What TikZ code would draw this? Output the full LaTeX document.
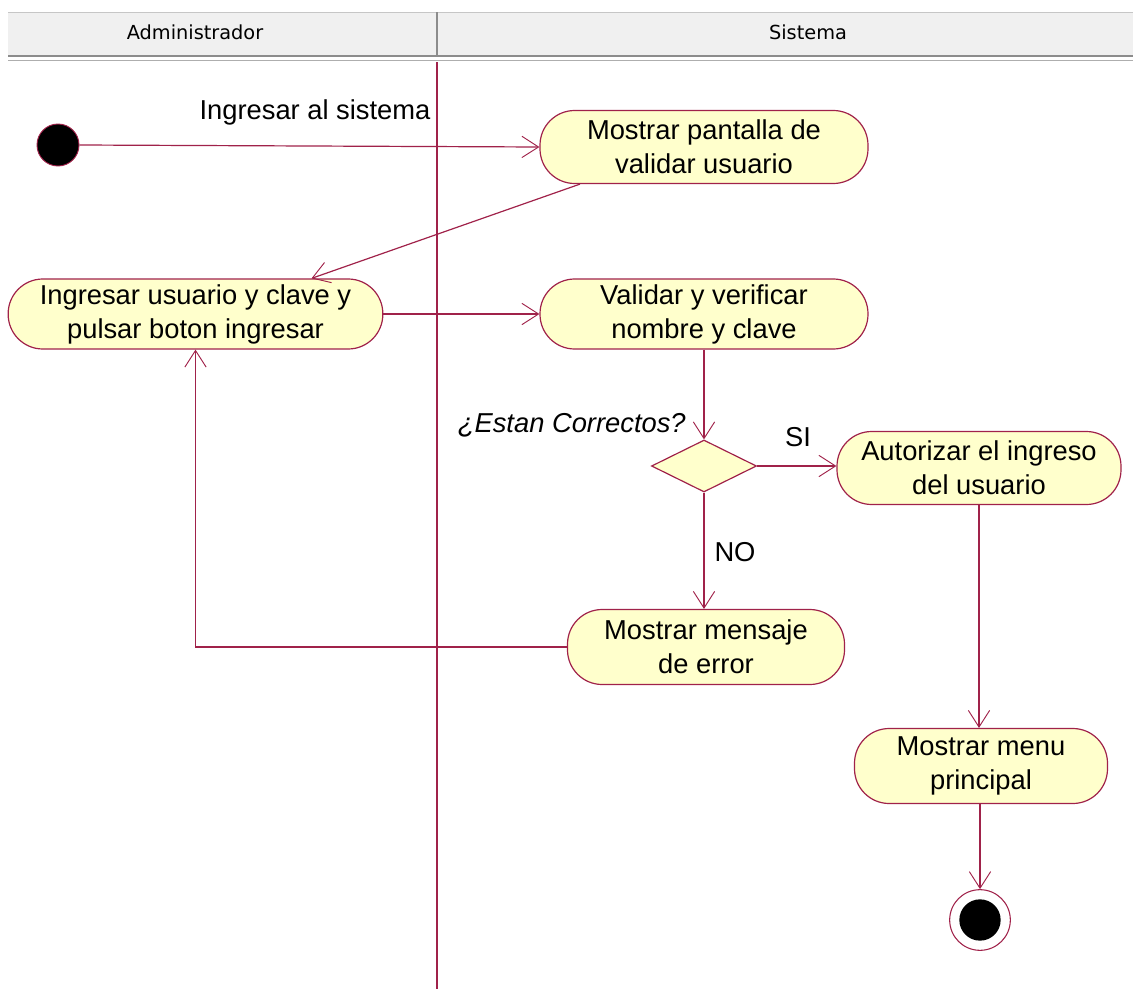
\documentclass[tikz,border=0pt]{standalone}
\usepackage{fontspec}
\setmainfont{Liberation Sans}
\newfontfamily\lanefont{DejaVu Sans}
\usetikzlibrary{arrows.meta,shapes.geometric}
\definecolor{umlline}{HTML}{A0224A}
\definecolor{umlfill}{HTML}{FFFFCC}
\definecolor{lanefill}{HTML}{F0F0F0}
\definecolor{lanegray}{HTML}{8C8C8C}
\tikzset{
  activity/.style={draw=umlline, fill=umlfill, line width=0.9pt, rectangle,
    rounded corners=26pt, align=center, inner sep=2pt,
    font=\fontsize{20.5}{25.5}\selectfont},
  decision/.style={draw=umlline, fill=umlfill, line width=0.9pt, diamond,
    minimum width=78.75pt, minimum height=39pt, inner sep=0pt},
  flow/.style={draw=umlline, line width=0.9pt,
    -{Straight Barb[length=12.5pt,width=16pt,line width=0.7pt]}},
  plainlabel/.style={font=\fontsize{20.5}{24}\selectfont, inner sep=0pt},
  lanetitle/.style={font=\lanefont\fontsize{14.5}{17}\selectfont, inner sep=0pt},
}
\begin{document}
\begin{tikzpicture}[x=0.75pt,y=-0.75pt]
\useasboundingbox (0,0) rectangle (1133,989);

% swimlane header
\fill[lanefill] (8,12) rectangle (1133,55);
\draw[lanegray!50, line width=0.6pt] (8,12) -- (1133,12);
\draw[lanegray, line width=1.4pt] (8,56) -- (1133,56);
\draw[lanegray!70, line width=1.4pt] (8,60.5) -- (1133,60.5);
\draw[lanegray, line width=2pt] (437,12) -- (437,56);
\node[lanetitle] (laneA) at (195,32) {Administrador};
\node[lanetitle] (laneS) at (808,32) {Sistema};

% lane separator
\draw[umlline, line width=1pt] (437,62) -- (437,989);

% start and end states
\node[circle, fill=black, draw=umlline, line width=0.7pt, minimum size=31.5pt, inner sep=0pt] (start) at (58,145) {};
\node[circle, fill=white, draw=umlline, line width=0.8pt, minimum size=45.5pt, inner sep=0pt] (finish) at (980,920) {};
\node[circle, fill=black, minimum size=31pt, inner sep=0pt] (finishdot) at (980,920) {};

% activities
\node[activity, minimum width=246pt, minimum height=54.75pt] (pantalla) at (704,147) {Mostrar pantalla de\\validar usuario};
\node[activity, minimum width=281pt, minimum height=52.5pt] (ingresar) at (195.5,314) {Ingresar usuario y clave y\\pulsar boton ingresar};
\node[activity, minimum width=246pt, minimum height=52.5pt] (validar) at (704,314) {Validar y verificar\\nombre y clave};
\node[decision] (check) at (704,466) {};
\node[activity, minimum width=213pt, minimum height=54.75pt] (autorizar) at (979,468) {Autorizar el ingreso\\del usuario};
\node[activity, minimum width=207.75pt, minimum height=56.25pt] (mensaje) at (706,647) {Mostrar mensaje\\de error};
\node[activity, minimum width=189.75pt, minimum height=56.25pt] (menu) at (981,766) {Mostrar menu\\principal};

% labels
\node[plainlabel] (lblentrar) at (315,112) {Ingresar al sistema};
\node[plainlabel, anchor=east, font=\fontsize{20.5}{24}\selectfont\itshape] (lblcheck) at (686,425) {¿Estan Correctos?};
\node[plainlabel] (lblsi) at (798,437) {SI};
\node[plainlabel] (lblno) at (735,552) {NO};

% transitions
\draw[flow] (start.east) -- (pantalla.west);
\draw[flow] ([xshift=-93pt]pantalla.south) -- ([xshift=87pt]ingresar.north);
\draw[flow] (ingresar.east) -- (validar.west);
\draw[flow] (validar.south) -- (validar.south |- check.north);
\draw[flow] (check.east) -- (check.east -| autorizar.west);
\draw[flow] (check.south) -- (check.south |- mensaje.north);
\draw[flow] (mensaje.west) -| (ingresar.south);
\draw[flow] (autorizar.south) -- (autorizar.south |- menu.north);
\draw[flow] (menu.south -| finish.north) -- (finish.north);
\end{tikzpicture}
\end{document}
